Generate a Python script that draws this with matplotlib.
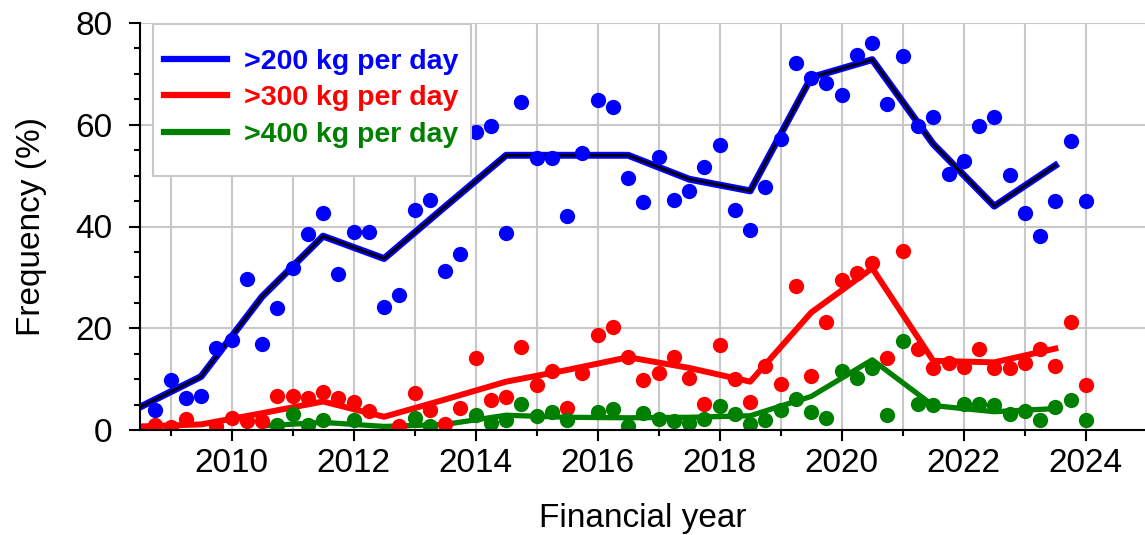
import numpy as np
import matplotlib
matplotlib.use("Agg")
import matplotlib.pyplot as plt
from matplotlib.ticker import MultipleLocator
from matplotlib.lines import Line2D
from matplotlib.patches import Rectangle

nan = np.nan

# Quarterly observations (financial year)
quarters = np.arange(2008.75, 2024.01, 0.25)

freq_200 = [3.9, 9.8, 6.2, 6.6, 16.1, 17.6, 29.7, 16.9, 23.9, 31.8,
            38.5, 42.6, 30.7, 38.9, 38.9, 24.1, 26.5, 43.2, 45.2, 31.3,
            34.6, 58.5, 59.8, 38.8, 64.5, 53.5, 53.5, 42.1, 54.5, 64.9,
            63.4, 49.5, 44.9, 53.7, 45.2, 47.0, 51.6, 56.0, 43.2, 39.3,
            47.8, 57.2, 72.1, 69.1, 68.3, 65.8, 73.7, 76.0, 64.1, 73.6,
            59.8, 61.6, 50.3, 52.9, 59.8, 61.6, 50.1, 42.6, 38.1, 45.0,
            56.8, 45.0]

freq_300 = [1.0, 0.5, 2.2, nan, 0.8, 2.3, 1.8, 1.8, 6.6, 6.7,
            6.2, 7.5, 6.2, 5.5, 3.7, nan, 0.8, 7.2, 3.9, 1.1,
            4.3, 14.2, 5.9, 6.4, 16.4, 8.8, 11.5, 4.4, 11.3, 18.7,
            20.2, 14.4, 9.8, 11.3, 14.4, 10.2, 5.1, 16.7, 10.0, 5.6,
            12.6, 9.0, 28.4, 10.6, 21.3, 29.5, 30.8, 32.9, 14.1, 35.2,
            15.9, 12.1, 13.1, 12.4, 15.9, 12.1, 12.1, 13.2, 15.9, 12.6,
            21.3, 8.8]

freq_400 = [nan, nan, nan, nan, nan, nan, nan, nan, 1.0, 3.1,
            1.0, 2.0, nan, 2.0, nan, nan, nan, 2.3, 0.7, nan,
            nan, 2.9, 1.4, 2.0, 5.1, 2.8, 3.6, 2.0, nan, 3.6,
            4.1, 0.8, 3.4, 2.2, 1.8, 1.3, 2.2, 4.7, 3.1, 1.1,
            2.0, 3.9, 6.1, 3.6, 2.3, 11.5, 10.3, 12.1, 2.9, 17.4,
            5.1, 5.0, nan, 5.1, 5.2, 5.0, 3.1, 3.8, 2.0, 4.6,
            5.8, 2.0]

# Annual averages (plotted mid-year)
years = np.arange(2008.5, 2023.51, 1.0)
annual_200 = [4.5, 10.5, 26.2, 38.1, 33.7, 43.9, 54.0, 54.0, 54.0, 49.3,
              47.0, 69.3, 72.8, 56.2, 44.0, 52.0]
annual_300 = [0.7, 1.1, 3.3, 5.6, 2.6, 6.0, 9.5, 11.8, 14.3, 12.2,
              9.5, 23.1, 31.8, 13.6, 13.3, 16.0]
annual_400 = [nan, nan, 0.8, 1.5, 0.7, 1.1, 2.9, 2.5, 2.4, 2.5,
              2.8, 6.6, 13.8, 4.8, 3.6, 4.2]

labels = [">200 kg per day", ">300 kg per day", ">400 kg per day"]
colors = ["#0000ff", "#ff0000", "#008000"]

plt.rcParams['font.family'] = ['Liberation Sans', 'DejaVu Sans']

fig = plt.figure(figsize=(11.45, 5.35), dpi=100)
ax = fig.add_axes([140/1145, 105/535, 1005/1145, 407/535])

ms = 11
# >200
ax.plot(years, annual_200, color=colors[0], lw=5.0, zorder=3)
ax.plot(years, annual_200, color='black', lw=2.0, zorder=3.1)
ax.plot(quarters, freq_200, 'o', color=colors[0], ms=ms, mec='none', zorder=4)
# >300
ax.plot(years, annual_300, color=colors[1], lw=4.3, zorder=3)
ax.plot(quarters, freq_300, 'o', color=colors[1], ms=ms, mec='none', zorder=4)
# >400
ax.plot(years, annual_400, color=colors[2], lw=3.8, zorder=3)
ax.plot(quarters, freq_400, 'o', color=colors[2], ms=ms, mec='none', zorder=4)

ax.set_xlim(2008.5, 2024.97)
ax.set_ylim(0, 80)
ax.xaxis.set_major_locator(MultipleLocator(2))
ax.xaxis.set_minor_locator(MultipleLocator(1))
ax.yaxis.set_major_locator(MultipleLocator(20))
ax.yaxis.set_minor_locator(MultipleLocator(5))

ax.grid(True, which='major', axis='y', color='#c8c8c8', lw=1.5, zorder=0)
ax.grid(True, which='both', axis='x', color='#c8c8c8', lw=1.5, zorder=0)
ax.set_axisbelow(True)

for s in ['top', 'right']:
    ax.spines[s].set_visible(False)
for s in ['left', 'bottom']:
    ax.spines[s].set_linewidth(1.5)
    ax.spines[s].set_color('black')
    ax.spines[s].set_zorder(5)

ax.tick_params(which='major', direction='out', length=8, width=1.5, labelsize=24)
ax.tick_params(which='minor', direction='out', length=4.5, width=1.5)
ax.tick_params(axis='y', which='major', pad=12)
ax.tick_params(axis='x', which='major', pad=5)

ax.set_xlabel("Financial year", fontsize=24, labelpad=17)
ax.set_ylabel("Frequency (%)", fontsize=24, labelpad=20)

# legend frame (drawn separately so its padding can match the original)
frame = Rectangle((0.0129, 0.624), 0.3165, 0.3735, transform=ax.transAxes,
                  facecolor='white', edgecolor='#c8c8c8', lw=1.5, zorder=9,
                  clip_on=False)
ax.add_patch(frame)

handles = [Line2D([], [], color=c, lw=4.5) for c in colors]
leg = ax.legend(handles, labels, loc='upper left', bbox_to_anchor=(0.0239, 0.937),
                borderaxespad=0, frameon=False,
                prop={'weight': 'bold', 'size': 20.5}, handlelength=2.2, handletextpad=0.6,
                labelspacing=0.38, borderpad=0)
leg.set_zorder(10)
for t, c in zip(leg.get_texts(), colors):
    t.set_color(c)

fig.savefig("out.png", dpi=100)
